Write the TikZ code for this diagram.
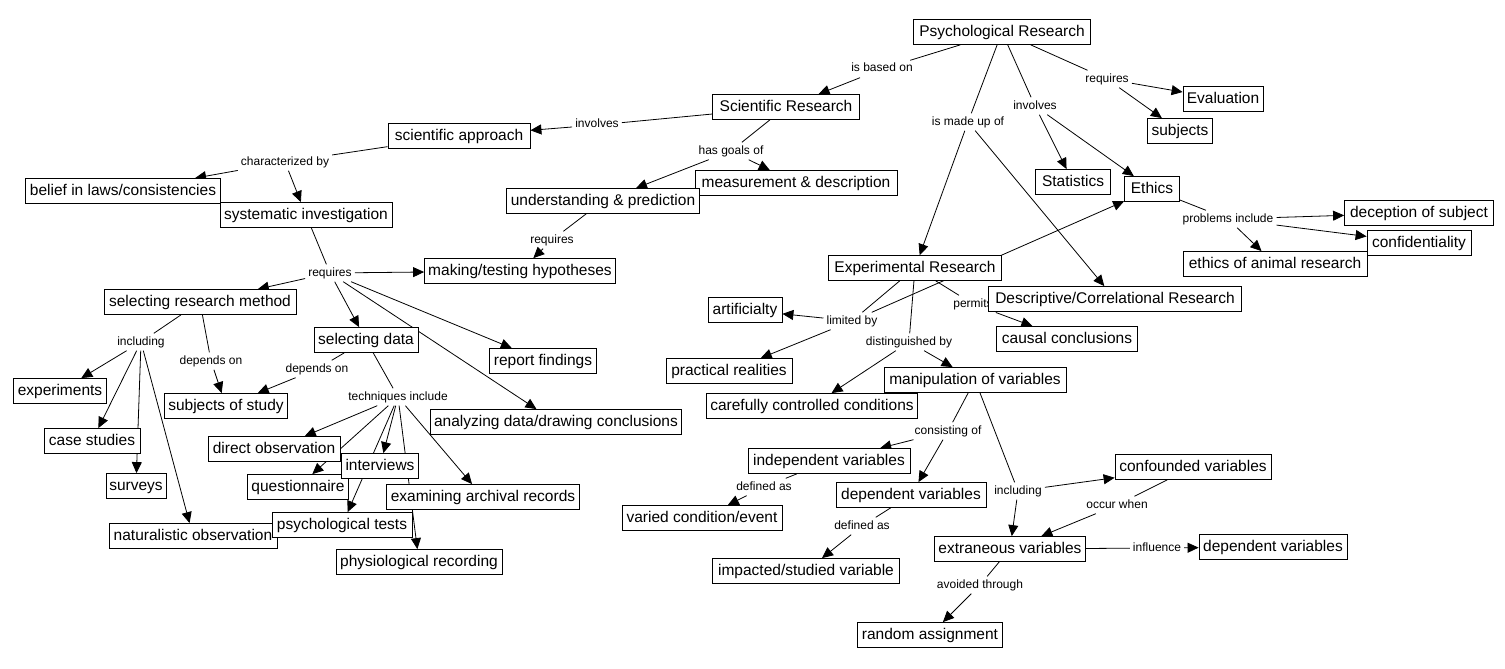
\documentclass[tikz,border=0pt]{standalone}
\usepackage{fontspec}
\setmainfont{Liberation Sans}
\usetikzlibrary{arrows.meta}
\pgfdeclarelayer{bgl}
\pgfdeclarelayer{edges}
\pgfsetlayers{bgl,edges,main}
\begin{document}
\begin{tikzpicture}[x=1pt,y=-1pt,
  cbox/.style={draw, fill=white, line width=0.8pt, font=\fontsize{15.5}{18}\selectfont,
     minimum height=25pt, inner xsep=2pt, inner ysep=0pt, text height=11.5pt, text depth=3pt},
  lab/.style={font=\fontsize{12}{14}\selectfont, inner xsep=3pt, inner ysep=3pt, text height=8.5pt, text depth=2.5pt},
  ln/.style={line width=0.8pt},
  arr/.style={line width=0.8pt, -{Triangle[length=11pt,width=10pt]}}]
\begin{pgfonlayer}{bgl}
\path[use as bounding box, fill=white] (0,0) rectangle (1505,669);
\end{pgfonlayer}

% linking phrases
\node[lab] (lbasedon) at (882,69) {is based on};
\node[lab] (linvA) at (597,125) {involves};
\node[lab] (lgoals) at (731,151) {has goals of};
\node[lab] (lchar) at (285,162) {characterized by};
\node[lab] (lreqA) at (552,240) {requires};
\node[lab] (lreqB) at (330,273) {requires};
\node[lab] (lmade) at (968,122) {is made up of};
\node[lab] (linvB) at (1035,106) {involves};
\node[lab] (lreqC) at (1107,79) {requires};
\node[lab] (lprob) at (1228,219) {problems include};
\node[lab] (llim) at (852,321) {limited by};
\node[lab] (lperm) at (973,304) {permits};
\node[lab] (ldist) at (909,342) {distinguished by};
\node[lab] (lcons) at (948,431) {consisting of};
\node[lab] (ldefA) at (764,487) {defined as};
\node[lab] (ldefB) at (862,526) {defined as};
\node[lab] (linclB) at (1018,491) {including};
\node[lab] (loccur) at (1117,505) {occur when};
\node[lab] (linfl) at (1157,548) {influence};
\node[lab] (lavoid) at (980,585) {avoided through};
\node[lab] (linclA) at (141,342) {including};
\node[lab] (ldepA) at (211,361) {depends on};
\node[lab] (ldepB) at (317,369) {depends on};
\node[lab] (ltech) at (398,397) {techniques include};

% concepts
\node[cbox, minimum width=177pt] (psych) at (1002,32) {Psychological Research};
\node[cbox, minimum width=80pt] (evalu) at (1223,99) {Evaluation};
\node[cbox, minimum width=65pt] (subj) at (1180,131) {subjects};
\node[cbox, minimum width=147pt] (sciR) at (786,107) {Scientific Research};
\node[cbox, minimum width=142pt] (sciA) at (459,136) {scientific approach};
\node[cbox, minimum width=195pt] (belief) at (123,191) {belief in laws/consistencies};
\node[cbox, minimum width=172pt] (sysinv) at (306,215) {systematic investigation};
\node[cbox, minimum width=202pt] (meas) at (796,183) {measurement \& description};
\node[cbox, minimum width=193pt] (under) at (603,201) {understanding \& prediction};
\node[cbox, minimum width=191pt] (making) at (520,271) {making/testing hypotheses};
\node[cbox, minimum width=75pt] (stats) at (1073,182) {Statistics};
\node[cbox, minimum width=55pt] (ethics) at (1152,189) {Ethics};
\node[cbox, minimum width=149pt] (decep) at (1419,213) {deception of subject};
\node[cbox, minimum width=104pt] (confid) at (1419,243) {confidentiality};
\node[cbox, minimum width=184pt] (animal) at (1275,264) {ethics of animal research};
\node[cbox, minimum width=173pt] (exper) at (915,268) {Experimental Research};
\node[cbox, minimum width=253pt] (descr) at (1115,299) {Descriptive/Correlational Research};
\node[cbox, minimum width=141pt] (causal) at (1067,339) {causal conclusions};
\node[cbox, minimum width=74pt] (artif) at (745,310) {artificialty};
\node[cbox, minimum width=126pt] (pract) at (729,371) {practical realities};
\node[cbox, minimum width=182pt] (manip) at (975,380) {manipulation of variables};
\node[cbox, minimum width=211pt] (careful) at (812,406) {carefully controlled conditions};
\node[cbox, minimum width=162pt] (indep) at (829,461) {independent variables};
\node[cbox, minimum width=150pt] (depmid) at (911,495) {dependent variables};
\node[cbox, minimum width=160pt] (varied) at (702,518) {varied condition/event};
\node[cbox, minimum width=187pt] (impact) at (806,571) {impacted/studied variable};
\node[cbox, minimum width=151pt] (extran) at (1010,549) {extraneous variables};
\node[cbox, minimum width=156pt] (confound) at (1193,467) {confounded variables};
\node[cbox, minimum width=148pt] (depright) at (1273,547) {dependent variables};
\node[cbox, minimum width=145pt] (random) at (930,635) {random assignment};
\node[cbox, minimum width=192pt] (selmeth) at (200,302) {selecting research method};
\node[cbox, minimum width=104pt] (seldata) at (366,340) {selecting data};
\node[cbox, minimum width=107pt] (report) at (543,361) {report findings};
\node[cbox, minimum width=93pt] (expts) at (60,391) {experiments};
\node[cbox, minimum width=123pt] (subjstudy) at (226,406) {subjects of study};
\node[cbox, minimum width=251pt] (analyz) at (556,422) {analyzing data/drawing conclusions};
\node[cbox, minimum width=96pt] (cases) at (92,441) {case studies};
\node[cbox, minimum width=132pt] (direct) at (274,449) {direct observation};
\node[cbox, minimum width=101pt] (quest) at (298,487) {questionnaire};
\node[cbox, minimum width=77pt] (interv) at (380,466) {interviews};
\node[cbox, minimum width=193pt] (archiv) at (483,497) {examining archival records};
\node[cbox, minimum width=60pt] (surveys) at (136,486) {surveys};
\node[cbox, minimum width=168pt] (natobs) at (193,536) {naturalistic observation};
\node[cbox, minimum width=140pt] (psytests) at (342,525) {psychological tests};
\node[cbox, minimum width=166pt] (physio) at (419,562) {physiological recording};

\begin{pgfonlayer}{edges}
\draw[ln] (psych) -- (lbasedon);
\draw[arr] (lbasedon) -- (sciR);
\draw[ln] (psych) -- (lmade);
\draw[arr] (lmade) -- (exper);
\draw[arr] (lmade) -- (descr);
\draw[ln] (psych) -- (linvB);
\draw[arr] (linvB) -- (stats);
\draw[arr] (linvB) -- (ethics);
\draw[ln] (psych) -- (lreqC);
\draw[arr] (lreqC) -- (evalu);
\draw[arr] (lreqC) -- (subj);
\draw[ln] (ethics) -- (lprob);
\draw[arr] (lprob) -- (decep);
\draw[arr] (lprob) -- (confid);
\draw[arr] (lprob) -- (animal);
\draw[ln] (sciR) -- (linvA);
\draw[arr] (linvA) -- (sciA);
\draw[ln] (sciR) -- (lgoals);
\draw[arr] (lgoals) -- (under);
\draw[arr] (lgoals) -- (meas);
\draw[ln] (under) -- (lreqA);
\draw[arr] (lreqA) -- (making);
\draw[ln] (sciA) -- (lchar);
\draw[arr] (lchar) -- (belief);
\draw[arr] (lchar) -- (sysinv);
\draw[ln] (sysinv) -- (lreqB);
\draw[arr] (lreqB) -- (making);
\draw[arr] (lreqB) -- (selmeth);
\draw[arr] (lreqB) -- (seldata);
\draw[arr] (lreqB) -- (report);
\draw[arr] (lreqB) -- (analyz);
\draw[ln] (selmeth) -- (linclA);
\draw[arr] (linclA) -- (expts);
\draw[arr] (linclA) -- (cases);
\draw[arr] (linclA) -- (surveys);
\draw[arr] (linclA) -- (natobs);
\draw[ln] (selmeth) -- (ldepA);
\draw[arr] (ldepA) -- (subjstudy);
\draw[ln] (seldata) -- (ldepB);
\draw[arr] (ldepB) -- (subjstudy);
\draw[ln] (seldata) -- (ltech);
\draw[arr] (ltech) -- (direct);
\draw[arr] (ltech) -- (quest);
\draw[arr] (ltech) -- (interv);
\draw[arr] (ltech) -- (psytests);
\draw[arr] (ltech) -- (physio);
\draw[arr] (ltech) -- (archiv);
\draw[ln] (exper) -- (llim);
\draw[arr] (llim) -- (artif);
\draw[arr] (llim) -- (pract);
\draw[arr] (llim) -- (ethics);
\draw[ln] (exper) -- (lperm);
\draw[arr] (lperm) -- (causal);
\draw[ln] (exper) -- (ldist);
\draw[arr] (ldist) -- (careful);
\draw[arr] (ldist) -- (manip);
\draw[ln] (manip) -- (lcons);
\draw[arr] (lcons) -- (indep);
\draw[arr] (lcons) -- (depmid);
\draw[ln] (indep) -- (ldefA);
\draw[arr] (ldefA) -- (varied);
\draw[ln] (depmid) -- (ldefB);
\draw[arr] (ldefB) -- (impact);
\draw[ln] (manip) -- (linclB);
\draw[arr] (linclB) -- (extran);
\draw[arr] (linclB) -- (confound);
\draw[ln] (confound) -- (loccur);
\draw[arr] (loccur) -- (extran);
\draw[ln] (extran) -- (linfl);
\draw[arr] (linfl) -- (depright);
\draw[ln] (extran) -- (lavoid);
\draw[arr] (lavoid) -- (random);
\end{pgfonlayer}
\end{tikzpicture}
\end{document}
